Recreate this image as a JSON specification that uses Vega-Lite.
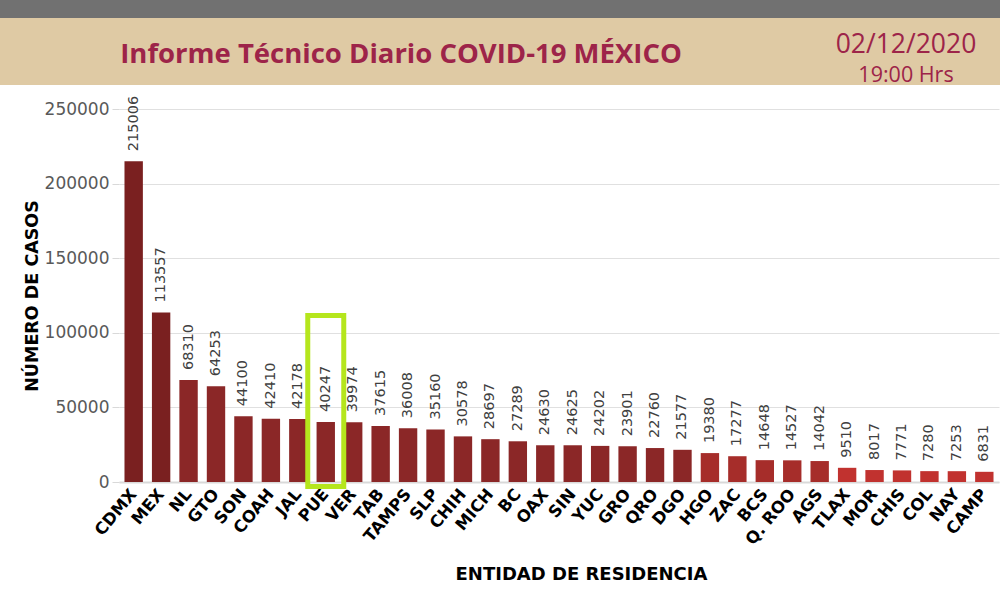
{
  "$schema": "https://vega.github.io/schema/vega-lite/v6.json",
  "background": "white",
  "padding": 0,
  "config": {
    "view": {"stroke": null},
    "concat": {"spacing": 0}
  },
  "datasets": {
    "casos": [
      {"estado": "CDMX", "casos": 215006},
      {"estado": "MEX", "casos": 113557},
      {"estado": "NL", "casos": 68310},
      {"estado": "GTO", "casos": 64253},
      {"estado": "SON", "casos": 44100},
      {"estado": "COAH", "casos": 42410},
      {"estado": "JAL", "casos": 42178},
      {"estado": "PUE", "casos": 40247},
      {"estado": "VER", "casos": 39974},
      {"estado": "TAB", "casos": 37615},
      {"estado": "TAMPS", "casos": 36008},
      {"estado": "SLP", "casos": 35160},
      {"estado": "CHIH", "casos": 30578},
      {"estado": "MICH", "casos": 28697},
      {"estado": "BC", "casos": 27289},
      {"estado": "OAX", "casos": 24630},
      {"estado": "SIN", "casos": 24625},
      {"estado": "YUC", "casos": 24202},
      {"estado": "GRO", "casos": 23901},
      {"estado": "QRO", "casos": 22760},
      {"estado": "DGO", "casos": 21577},
      {"estado": "HGO", "casos": 19380},
      {"estado": "ZAC", "casos": 17277},
      {"estado": "BCS", "casos": 14648},
      {"estado": "Q. ROO", "casos": 14527},
      {"estado": "AGS", "casos": 14042},
      {"estado": "TLAX", "casos": 9510},
      {"estado": "MOR", "casos": 8017},
      {"estado": "CHIS", "casos": 7771},
      {"estado": "COL", "casos": 7280},
      {"estado": "NAY", "casos": 7253},
      {"estado": "CAMP", "casos": 6831}
    ]
  },
  "vconcat": [
    {
      "vconcat": [
        {
          "width": 1000,
          "height": 18,
          "view": {"fill": "#717171", "stroke": null},
          "data": {"values": [{}]},
          "mark": "text",
          "encoding": {"text": {"value": ""}}
        },
        {
          "hconcat": [
            {
              "width": 802,
              "height": 67,
              "view": {"fill": "#dfcaa4", "stroke": null},
              "title": {
                "text": "Informe Técnico Diario COVID-19 MÉXICO",
                "orient": "top",
                "anchor": "middle",
                "offset": -50,
                "font": "Open Sans",
                "fontSize": 27.5,
                "fontWeight": "bold",
                "color": "#9d2449"
              },
              "data": {"values": [{}]},
              "mark": "text",
              "encoding": {"text": {"value": ""}}
            },
            {
              "width": 198,
              "height": 67,
              "view": {"fill": "#dfcaa4", "stroke": null},
              "title": {
                "text": "02/12/2020",
                "subtitle": "19:00 Hrs",
                "orient": "top",
                "anchor": "middle",
                "dx": 5,
                "offset": -68,
                "font": "Open Sans",
                "fontSize": 26.5,
                "fontWeight": "normal",
                "color": "#9d2449",
                "lineHeight": 27,
                "subtitleFont": "Open Sans",
                "subtitleFontSize": 21.5,
                "subtitleColor": "#9d2449",
                "subtitleLineHeight": 22,
                "subtitlePadding": 6
              },
              "data": {"values": [{}]},
              "mark": "text",
              "encoding": {"text": {"value": ""}}
            }
          ]
        }
      ]
    },
    {
      "hconcat": [
        {
          "width": 23,
          "height": 10,
          "data": {"values": [{}]},
          "mark": "text",
          "encoding": {"text": {"value": ""}}
        },
        {
          "width": 880,
          "height": 373,
          "data": {"name": "casos"},
          "encoding": {
            "x": {
              "field": "estado",
              "type": "nominal",
              "sort": null,
              "scale": {"paddingInner": 0.33, "paddingOuter": 0.2},
              "axis": {
                "title": "ENTIDAD DE RESIDENCIA",
                "titleFont": "DejaVu Sans",
                "titleFontSize": 18,
                "titleFontWeight": "bold",
                "titleColor": "#000000",
                "titlePadding": 18,
                "titleX": 462,
                "labelAngle": -50,
                "labelFont": "DejaVu Sans",
                "labelFontSize": 16.5,
                "labelFontWeight": "bold",
                "labelColor": "#000000",
                "labelPadding": 9,
                "ticks": false,
                "domainColor": "#d9d9d9",
                "domainWidth": 2,
                "grid": false
              }
            }
          },
          "layer": [
            {
              "mark": {"type": "bar"},
              "encoding": {
                "y": {
                  "field": "casos",
                  "type": "quantitative",
                  "scale": {"domain": [0, 250000], "nice": false},
                  "axis": {
                    "title": "NÚMERO DE CASOS",
                    "titleFont": "DejaVu Sans",
                    "titleFontSize": 17.5,
                    "titleFontWeight": "bold",
                    "titleColor": "#000000",
                    "titlePadding": 3,
                    "values": [0, 50000, 100000, 150000, 200000, 250000],
                    "format": "d",
                    "labelFont": "DejaVu Sans",
                    "labelFontSize": 17,
                    "labelColor": "#595959",
                    "labelPadding": 3,
                    "tickColor": "#d9d9d9",
                    "tickSize": 7,
                    "domain": false,
                    "gridColor": "#e0e0e0"
                  }
                },
                "color": {
                  "field": "casos",
                  "type": "quantitative",
                  "scale": {
                    "type": "threshold",
                    "domain": [10000, 20000, 100000],
                    "range": ["#c1322f", "#a62d2a", "#8b2727", "#7a2020"]
                  },
                  "legend": null
                }
              }
            },
            {
              "mark": {
                "type": "text",
                "angle": 270,
                "align": "left",
                "baseline": "middle",
                "dx": 10,
                "font": "DejaVu Sans",
                "fontSize": 14.5,
                "color": "#404040"
              },
              "encoding": {
                "y": {"field": "casos", "type": "quantitative"},
                "text": {"field": "casos", "type": "quantitative", "format": "d"}
              }
            },
            {
              "transform": [{"filter": "datum.estado === 'PUE'"}],
              "mark": {
                "type": "bar",
                "width": 36,
                "fill": null,
                "fillOpacity": 0,
                "stroke": "#b5e61d",
                "strokeWidth": 5
              },
              "encoding": {
                "y": {"datum": 111600},
                "y2": {"datum": -3000}
              }
            }
          ]
        }
      ]
    }
  ],
  "spacing": 9
}
